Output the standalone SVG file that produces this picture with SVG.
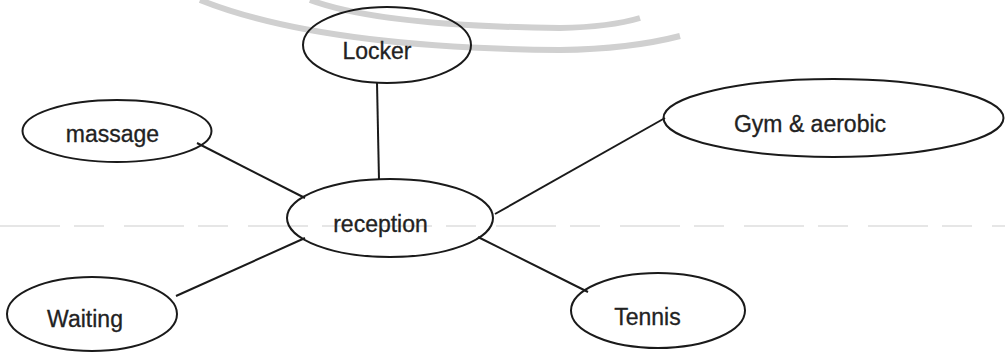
<svg xmlns="http://www.w3.org/2000/svg" width="1005" height="354" viewBox="0 0 1005 354">
<style>
.node ellipse{fill:none;stroke:#1a1a1a;stroke-width:2}
.node text{font-family:"Liberation Sans",Arial,sans-serif;font-size:23px;fill:#222;stroke:#222;stroke-width:0.3;text-anchor:middle}
.conn line{stroke:#1a1a1a;stroke-width:2}
.wm{fill:none;stroke:#d0d0d0;stroke-width:6}
.scan{stroke:#e6e6e6;stroke-width:2;stroke-dasharray:60 14 30 20}
</style>
<rect width="1005" height="354" fill="#fff"/>
<g id="background">
<path class="wm" d="M310,0 Q380,26 560,28 Q610,27 640,18"/>
<path class="wm" d="M200,0 Q320,48 560,50 Q630,49 680,36"/>
<line class="scan" x1="0" y1="226" x2="1005" y2="226"/>
</g>
<g id="connectors" class="conn">
<line x1="377" y1="83" x2="379" y2="180"/>
<line x1="197" y1="143" x2="305" y2="198"/>
<line x1="176" y1="296" x2="305" y2="238"/>
<line x1="478" y1="237" x2="588" y2="292"/>
<line x1="495" y1="214" x2="665" y2="118"/>
</g>
<g id="locker" class="node">
<ellipse cx="387" cy="45" rx="84" ry="38"/>
<text x="377" y="59">Locker</text>
</g>
<g id="massage" class="node">
<ellipse cx="117" cy="131" rx="94.5" ry="31"/>
<text x="112.5" y="142">massage</text>
</g>
<g id="gym" class="node">
<ellipse cx="833.5" cy="118" rx="170" ry="39"/>
<text x="810" y="132">Gym &amp; aerobic</text>
</g>
<g id="reception" class="node">
<ellipse cx="390" cy="218" rx="103" ry="39"/>
<text x="380.5" y="232">reception</text>
</g>
<g id="waiting" class="node">
<ellipse cx="92" cy="314" rx="85" ry="37"/>
<text x="85" y="327">Waiting</text>
</g>
<g id="tennis" class="node">
<ellipse cx="658" cy="310.5" rx="87" ry="37.5"/>
<text x="647.5" y="325">Tennis</text>
</g>
</svg>
